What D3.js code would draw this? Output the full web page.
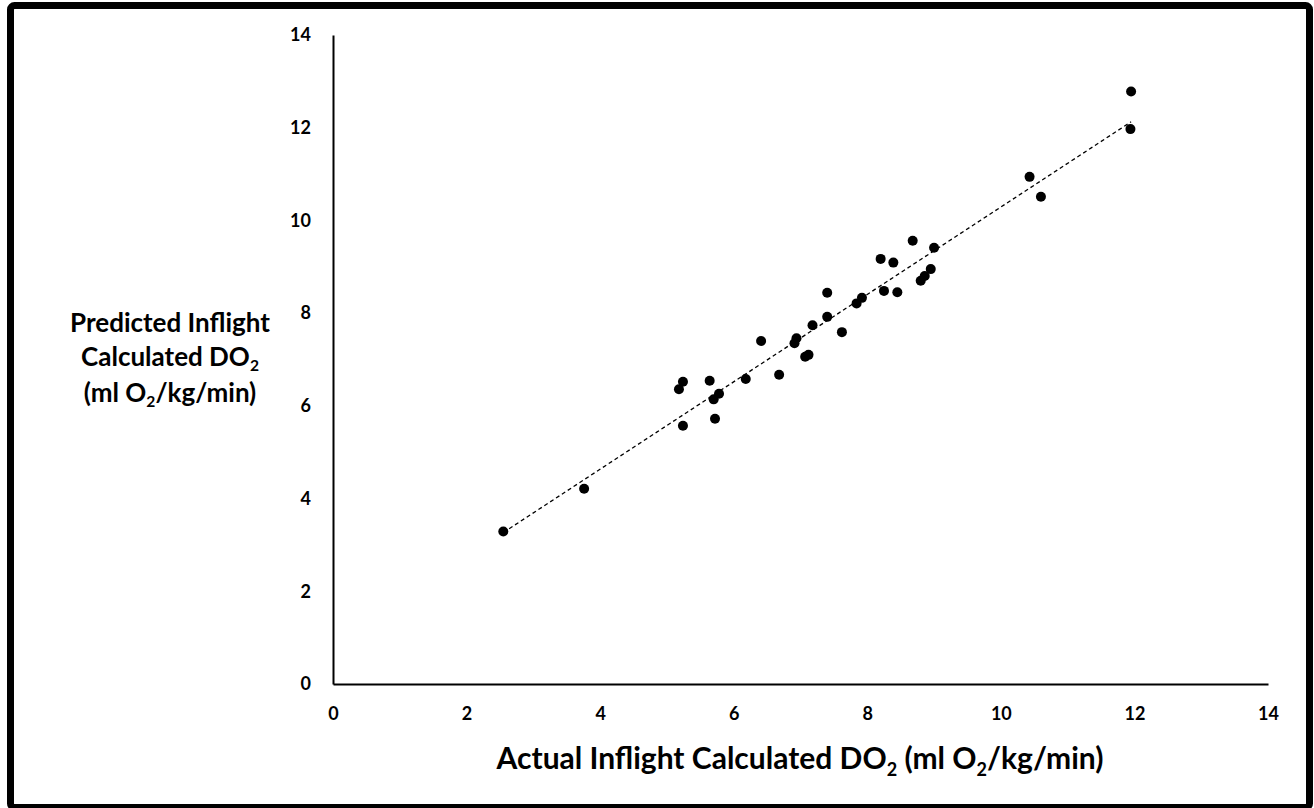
<!DOCTYPE html>
<html>
<head>
<meta charset="utf-8">
<script src="https://cdn.jsdelivr.net/npm/d3@7"></script>
<style>
body { margin: 0; background: #fff; }
text { font-family: Lato, "Open Sans", sans-serif; font-weight: bold; fill: #000; }
</style>
</head>
<body>
<div id="chart"></div>
<script>

// actual inflight DO2 (x) and predicted inflight DO2 (y)
var actual    = [ 2.55, 3.76, 5.24, 5.18, 5.64, 5.78, 5.70, 5.24, 5.72, 6.18,
                  6.41, 6.68, 6.94, 6.91, 7.07, 7.12, 7.18, 7.40, 7.40, 7.62,
                  7.84, 7.92, 8.20, 8.39, 8.25, 8.45, 8.68, 9.00, 8.95, 8.86,
                  8.80, 10.43, 10.60, 11.94, 11.95 ];
var predicted = [ 3.29, 4.21, 6.52, 6.36, 6.54, 6.26, 6.14, 5.57, 5.72, 6.58,
                  7.40, 6.67, 7.46, 7.35, 7.06, 7.10, 7.74, 8.44, 7.92, 7.59,
                  8.21, 8.33, 9.17, 9.09, 8.48, 8.45, 9.56, 9.41, 8.95, 8.80,
                  8.70, 10.94, 10.51, 11.97, 12.78 ];

var x_ticks = [ 0, 2, 4, 6, 8, 10, 12, 14 ];
var y_ticks = [ 0, 2, 4, 6, 8, 10, 12, 14 ];

var canvas_size = { width: 1314, height: 808 };
var plot = { left: 333, right: 1268, top: 35, bottom: 684 };

var svg = d3.select( '#chart' )
	.append( 'svg' )
		.attr( 'width', canvas_size.width )
		.attr( 'height', canvas_size.height );

// outer frame
svg.append( 'rect' )
	.attr( 'x', 10.5 ).attr( 'y', 5.5 )
	.attr( 'width', 1299 ).attr( 'height', 802 )
	.attr( 'rx', 4 )
	.attr( 'fill', 'none' )
	.attr( 'stroke', '#000' )
	.attr( 'stroke-width', 7 );

var x = d3.scaleLinear().domain( [0, 14] ).range( [plot.left, plot.right] );
var y = d3.scaleLinear().domain( [0, 14] ).range( [plot.bottom, plot.top] );

var x_axis = svg.append( 'g' )
	.attr( 'transform', 'translate(0,' + plot.bottom + ')' )
	.call( d3.axisBottom( x ).tickValues( x_ticks ).tickSize( 0 ).tickSizeOuter( 0 ).tickPadding( 23 ) );

var y_axis = svg.append( 'g' )
	.attr( 'transform', 'translate(' + plot.left + ',0)' )
	.call( d3.axisLeft( y ).tickValues( y_ticks ).tickSize( 0 ).tickSizeOuter( 0 ).tickPadding( 22 ) );

[ x_axis, y_axis ].forEach( function( a )
{
	a.select( '.domain' ).attr( 'stroke', '#000' ).attr( 'stroke-width', 2 );
	a.selectAll( 'text' )
		.style( 'font-family', 'Lato, sans-serif' )
		.style( 'font-weight', 'bold' )
		.style( 'font-size', '18px' );
});

// least squares trend line
var n = actual.length;
var mx = d3.mean( actual ), my = d3.mean( predicted );
var sxy = 0, sxx = 0;
for( var i = 0; i < n; i++ )
{
	sxy += ( actual[i] - mx ) * ( predicted[i] - my );
	sxx += ( actual[i] - mx ) * ( actual[i] - mx );
}
var slope = sxy / sxx;
var icpt = my - slope * mx;
var x0 = d3.min( actual ), x1 = d3.max( actual );

svg.append( 'line' )
	.attr( 'x1', x( x0 ) ).attr( 'y1', y( icpt + slope * x0 ) )
	.attr( 'x2', x( x1 ) ).attr( 'y2', y( icpt + slope * x1 ) )
	.attr( 'stroke', '#000' )
	.attr( 'stroke-width', 1.3 )
	.attr( 'stroke-dasharray', '4,3' );

svg.append( 'g' )
	.selectAll( 'circle' )
	.data( d3.range( n ) )
	.enter()
	.append( 'circle' )
		.attr( 'cx', function( i ) { return x( actual[i] ); } )
		.attr( 'cy', function( i ) { return y( predicted[i] ); } )
		.attr( 'r', 5 )
		.attr( 'fill', '#000' );

// axis titles, with subscript 2s
function sub_label( t, parts, shift )
{
	parts.forEach( function( p )
	{
		var s = t.append( 'tspan' ).text( p[0] );
		if( p[1] ) s.attr( 'font-size', '0.6em' ).attr( 'dy', shift );
		if( p[2] ) s.attr( 'dy', -shift );
	});
}

var xt = svg.append( 'text' )
	.attr( 'x', 800 ).attr( 'y', 769 )
	.attr( 'text-anchor', 'middle' )
	.style( 'font-size', '30px' );
sub_label( xt, [ ['Actual Inflight Calculated DO'], ['2', true], [' (ml O', false, true], ['2', true], ['/kg/min)', false, true] ], 7 );

var y_title_x = 170;
var l1 = svg.append( 'text' )
	.attr( 'x', y_title_x ).attr( 'y', 332 )
	.attr( 'text-anchor', 'middle' )
	.style( 'font-size', '26px' )
	.text( 'Predicted Inflight' );
var l2 = svg.append( 'text' )
	.attr( 'x', y_title_x ).attr( 'y', 366 )
	.attr( 'text-anchor', 'middle' )
	.style( 'font-size', '26px' );
sub_label( l2, [ ['Calculated DO'], ['2', true] ], 5 );
var l3 = svg.append( 'text' )
	.attr( 'x', y_title_x ).attr( 'y', 402 )
	.attr( 'text-anchor', 'middle' )
	.style( 'font-size', '26px' );
sub_label( l3, [ ['(ml O'], ['2', true], ['/kg/min)', false, true] ], 5 );

</script>
</body>
</html>
